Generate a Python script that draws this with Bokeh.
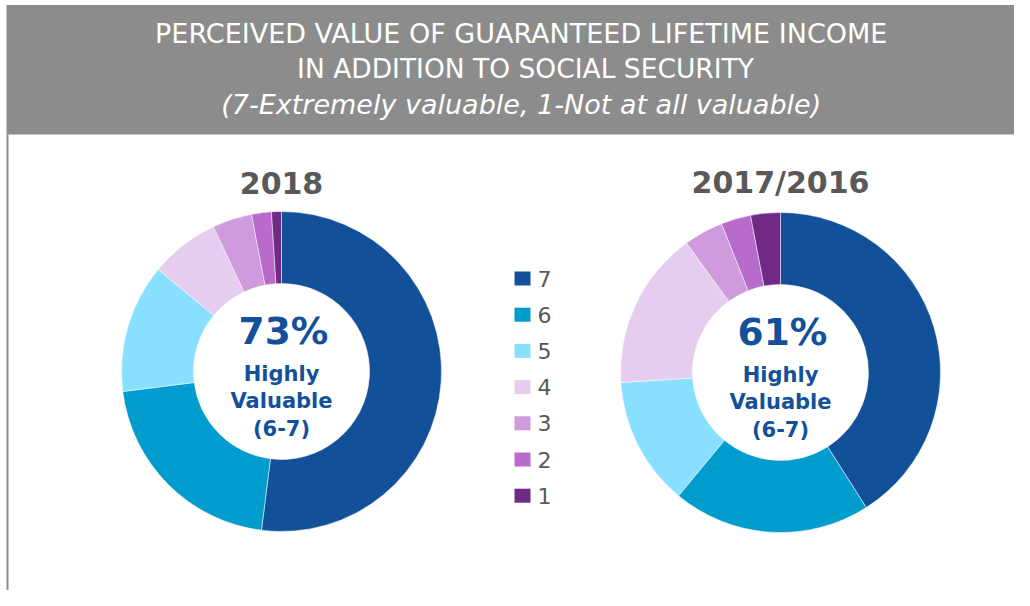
import numpy as np
from bokeh.plotting import figure
from bokeh.models import ColumnDataSource, Range1d
from bokeh.core.properties import value
from bokeh.embed import file_html
from bokeh.resources import INLINE

# ---- data ----
categories = ["7", "6", "5", "4", "3", "2", "1"]
values_2018 = [52, 21, 13, 7, 4, 2, 1]
values_2017 = [41, 20, 13, 16, 4, 3, 3]
colors = ["#12519A", "#009CCD", "#88DFFF", "#E6CDF0", "#CF9BDD", "#B96BCC", "#702A86"]
title_lines = ["PERCEIVED VALUE OF GUARANTEED  LIFETIME INCOME",
               "IN ADDITION TO SOCIAL SECURITY",
               "(7-Extremely  valuable, 1-Not at all valuable)"]
panel_titles = ["2018", "2017/2016"]
center_pct = ["73%", "61%"]
center_sub = ["Highly", "Valuable", "(6-7)"]

FONT = "DejaVu Sans"
W, H = 1014, 590
# data coordinates == figure pixels (x), y flipped: data_y = 606 - pixel_y
def Y(sy):
    return 606 - sy

p = figure(width=W, height=H, output_backend="svg", toolbar_location=None,
           x_range=Range1d(0, W), y_range=Range1d(606 - H, 606),
           min_border=0, outline_line_color=None, background_fill_color="white",
           border_fill_color="white")
p.axis.visible = False
p.grid.visible = False

# header band
p.quad(left=[6], right=[1040], top=[Y(4.5)], bottom=[Y(134)], fill_color="#8C8C8C", line_color=None)
# left border line
p.segment(x0=[7], y0=[Y(134)], x1=[7], y1=[Y(620)], line_color="#8C8C8C", line_width=2)

for i, (ty, style, fs) in enumerate(zip([33, 68, 104], ["normal", "normal", "italic"],
                                        ["27px", "26.5px", "27px"])):
    p.text(x=[525], y=[Y(ty)], text=[title_lines[i]], text_color="white",
           text_font=value(FONT), text_font_size=fs, text_font_style=style,
           text_align="center", text_baseline="middle")

def donut(cx, cy, vals, title, pct):
    v = np.array(vals, dtype=float)
    frac = v / v.sum()
    cum = np.concatenate([[0], np.cumsum(frac)])
    start = np.pi / 2 - cum[:-1] * 2 * np.pi
    end = np.pi / 2 - cum[1:] * 2 * np.pi
    src = ColumnDataSource(dict(start=start, end=end, color=colors, cat=categories))
    p.annular_wedge(x=cx, y=Y(cy), inner_radius=88, outer_radius=160,
                    start_angle="start", end_angle="end", direction="clock",
                    fill_color="color", line_color="white", line_width=0.5, source=src)
    p.text(x=[cx], y=[Y(182)], text=[title], text_color="#595959",
           text_font=value(FONT), text_font_size="30px", text_font_style="bold",
           text_align="center", text_baseline="middle")
    p.text(x=[cx + 2], y=[Y(cy - 41)], text=[pct], text_color="#12519A",
           text_font=value(FONT), text_font_size="37.5px", text_font_style="bold",
           text_align="center", text_baseline="middle")
    for k, s in enumerate(center_sub):
        p.text(x=[cx], y=[Y(cy + 2 + 27.5 * k)], text=[s], text_color="#12519A",
               text_font=value(FONT), text_font_size="21px", text_font_style="bold",
               text_align="center", text_baseline="middle")

donut(281, 371, values_2018, panel_titles[0], center_pct[0])
donut(780, 372, values_2017, panel_titles[1], center_pct[1])

# legend
ly = [278 + 36.2 * k for k in range(len(categories))]
lsrc = ColumnDataSource(dict(x=[522] * len(categories), y=[Y(s) for s in ly],
                             tx=[537] * len(categories), color=colors, cat=categories))
p.rect(x="x", y="y", width=16, height=14, fill_color="color", line_color=None, source=lsrc)
p.text(x="tx", y="y", text="cat", text_color="#595959", text_font=value(FONT),
       text_font_size="22px", text_align="left", text_baseline="middle", source=lsrc)

open("out.html", "w").write(file_html(p, INLINE))
